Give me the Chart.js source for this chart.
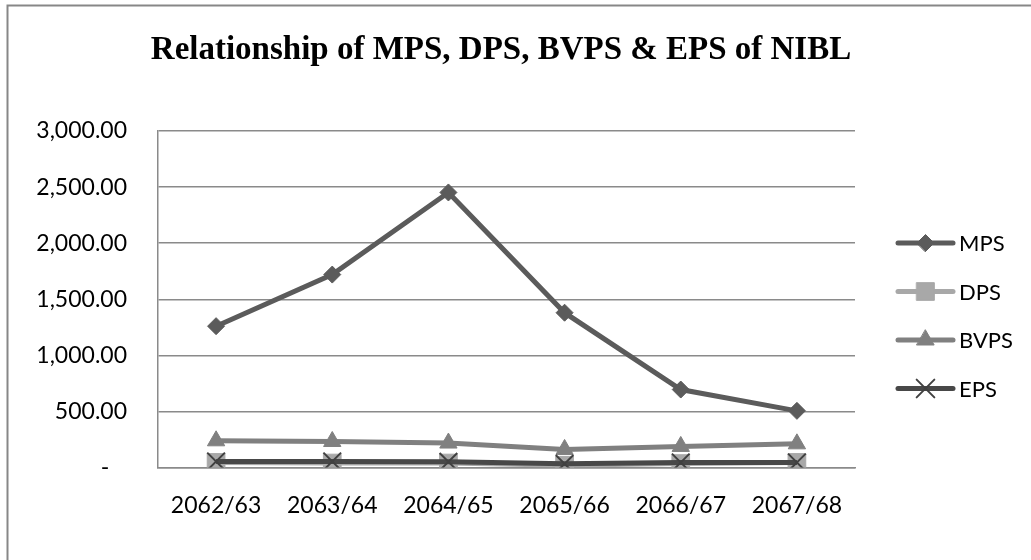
<!DOCTYPE html>
<html>
<head>
<meta charset="utf-8">
<script src="https://cdn.jsdelivr.net/npm/chart.js@4.4.1/dist/chart.umd.min.js"></script>
<style>
  html, body { margin: 0; padding: 0; background: #fff; }
  #wrap { width: 1031px; height: 560px; position: relative; }
</style>
</head>
<body>
<div id="wrap"><canvas id="c" width="1031" height="560"></canvas></div>
<script>
const titleText = 'Relationship of MPS, DPS, BVPS & EPS of NIBL';
const categories = ['2062/63', '2063/64', '2064/65', '2065/66', '2066/67', '2067/68'];
const mps  = [1260, 1720, 2452, 1380, 695, 505];
const dps  = [45, 40, 40, 20, 35, 45];
const bvps = [238, 232, 218, 161, 188, 211];
const eps  = [54, 54, 51, 33, 45, 45];
const yTicks = { min: 0, max: 3000, step: 500 };

const borderPlugin = {
  id: 'frame',
  beforeDraw(chart) {
    const ctx = chart.ctx;
    ctx.save();
    ctx.fillStyle = '#fff';
    ctx.fillRect(0, 0, chart.width, chart.height);
    ctx.strokeStyle = '#878787';
    ctx.lineWidth = 2;
    ctx.strokeRect(7.5, 5.5, 1040, 570);
    ctx.restore();
  },
  afterDraw(chart) {
    const ctx = chart.ctx;
    ctx.save();
    ctx.fillStyle = '#000';
    ctx.font = 'bold 33px "Liberation Serif", "Times New Roman", serif';
    ctx.textAlign = 'center';
    ctx.textBaseline = 'alphabetic';
    ctx.fillText(titleText, 501, 59);
    // legend
    const x0 = 898, x1 = 953, y0 = 243, dy = 48.5;
    chart.data.datasets.forEach((ds, i) => {
      const y = y0 + i * dy;
      ctx.save();
      ctx.strokeStyle = ds.borderColor;
      ctx.lineWidth = ds.borderWidth;
      ctx.lineCap = 'round';
      ctx.beginPath();
      ctx.moveTo(x0, y);
      ctx.lineTo(x1, y);
      ctx.stroke();
      ctx.fillStyle = ds.pointBackgroundColor;
      ctx.strokeStyle = ds.pointBorderColor;
      ctx.lineWidth = ds.pointBorderWidth;
      Chart.helpers.drawPoint(ctx, { pointStyle: ds.pointStyle, radius: ds.pointRadius, rotation: 0, borderWidth: ds.pointBorderWidth }, (x0 + x1) / 2, y);
      ctx.restore();
      ctx.fillStyle = '#000';
      ctx.font = '22px Lato, "Open Sans", sans-serif';
      ctx.textAlign = 'left';
      ctx.textBaseline = 'middle';
      ctx.fillText(ds.label, 959, y + 1);
    });
    ctx.restore();
  }
};

function mkDs(label, data, color, style, radius, order, pbw, pColor) {
  return {
    label, data,
    borderColor: color,
    backgroundColor: color,
    borderWidth: 5,
    pointStyle: style,
    pointRadius: radius,
    pointHoverRadius: radius,
    pointBackgroundColor: pColor || color,
    pointBorderColor: pColor || color,
    pointBorderWidth: pbw,
    tension: 0,
    fill: false,
    order
  };
}

new Chart(document.getElementById('c'), {
  type: 'line',
  data: {
    labels: categories,
    datasets: [
      mkDs('MPS', mps, '#5b5b5b', 'rectRot', 8.5, 4, 1),
      mkDs('DPS', dps, '#a8a8a8', 'rect', 12.5, 3, 1),
      mkDs('BVPS', bvps, '#808080', 'triangle', 10, 2, 1),
      mkDs('EPS', eps, '#484848', 'crossRot', 12.5, 1, 2, '#404040')
    ]
  },
  options: {
    responsive: false,
    animation: false,
    events: [],
    layout: { padding: { top: 131, right: 176, bottom: 0, left: 0 } },
    plugins: { legend: { display: false }, title: { display: false }, tooltip: { enabled: false } },
    scales: {
      x: {
        offset: true,
        grid: { display: false, drawTicks: false },
        border: { display: true, color: '#8a8a8a', width: 1.5 },
        ticks: { color: '#000', padding: 24, font: { family: 'Lato', size: 23 }, maxRotation: 0 },
        afterFit(s) { s.height = 92.5; }
      },
      y: {
        min: yTicks.min, max: yTicks.max,
        grid: { color: '#8a8a8a', lineWidth: 1.5, drawTicks: false },
        border: { display: true, color: '#8a8a8a', width: 1.5 },
        ticks: {
          stepSize: yTicks.step,
          color: '#000',
          padding: 31,
          font: { family: 'Lato', size: 23 },
          callback: v => v === 0 ? '-   ' : v.toLocaleString('en-US', { minimumFractionDigits: 2, maximumFractionDigits: 2 })
        },
        afterFit(s) { s.width = 158; }
      }
    }
  },
  plugins: [borderPlugin]
});
</script>
</body>
</html>
